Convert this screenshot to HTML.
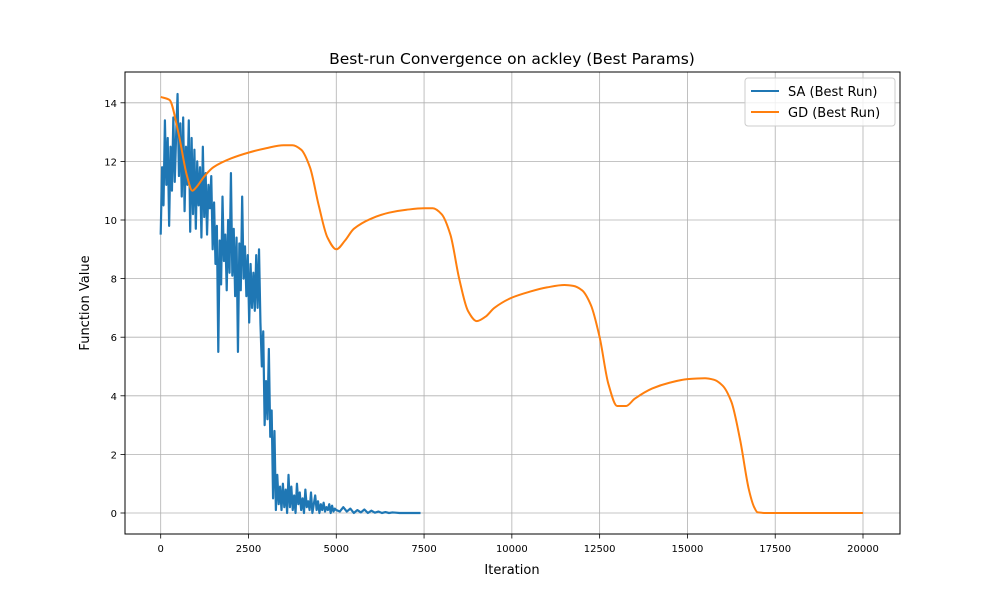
<!DOCTYPE html>
<html><head><meta charset="utf-8">
<style>
html,body{margin:0;padding:0;background:#fff;}
svg{display:block;font-family:"DejaVu Sans","Liberation Sans",sans-serif;}
</style></head>
<body>
<svg id="chart" width="1000" height="600" viewBox="0 0 1000 600">
<rect x="0" y="0" width="1000" height="600" fill="#fff"/>
<g id="grid"></g>
<g id="series"></g>
<rect x="125" y="72" width="775" height="462" fill="none" stroke="#000" stroke-width="1"/>
<g id="ticks"></g>
<text x="512" y="64" text-anchor="middle" font-size="15.5">Best-run Convergence on ackley (Best Params)</text>
<text x="512" y="574" text-anchor="middle" font-size="13">Iteration</text>
<text transform="translate(89,303) rotate(-90)" text-anchor="middle" font-size="13">Function Value</text>
<g>
<rect x="745" y="78" width="150" height="48" rx="3" fill="#fff" fill-opacity="0.8" stroke="#ccc"/>
<line x1="751" y1="91" x2="779" y2="91" stroke="#1f77b4" stroke-width="2"/>
<text x="788" y="96" font-size="13">SA (Best Run)</text>
<line x1="751" y1="112" x2="779" y2="112" stroke="#ff7f0e" stroke-width="2"/>
<text x="788" y="117" font-size="13">GD (Best Run)</text>
</g>
</svg>
<script>
const xTicks = [0, 2500, 5000, 7500, 10000, 12500, 15000, 17500, 20000];
const yTicks = [0, 2, 4, 6, 8, 10, 12, 14];
const gdIter = [0,250,500,750,900,1000,1250,1500,2000,2500,3000,3500,3750,4000,4250,4500,4750,5000,5250,5500,6000,6500,7000,7500,7750,8000,8250,8500,8750,9000,9250,9500,10000,10500,11000,11500,11750,12000,12250,12500,12750,13000,13250,13500,14000,14500,15000,15500,15750,16000,16250,16500,16750,16900,17000,17250,20000];
const gdVal = [14.2,14.1,13.0,11.5,11.0,11.1,11.5,11.8,12.1,12.3,12.45,12.55,12.55,12.4,11.8,10.5,9.4,9.0,9.3,9.7,10.05,10.25,10.35,10.4,10.4,10.2,9.5,8.0,6.9,6.55,6.7,7.0,7.35,7.55,7.7,7.78,7.75,7.6,7.1,6.0,4.4,3.65,3.65,3.9,4.25,4.45,4.57,4.6,4.55,4.35,3.8,2.5,0.8,0.2,0.02,0,0];
const saStepA = 40;
const saValA = [9.5,11.8,10.5,13.4,11.2,12.8,9.8,12.5,11.0,13.5,11.3,12.9,14.3,11.5,13.3,10.8,13.5,10.3,12.5,11.2,13.4,9.6,12.8,10.2,12.4,9.7,12.0,10.5,11.8,9.4,12.5,10.1,11.6,9.5,11.2,10.4,11.5,9.0,10.6,8.5,9.8,5.5,9.3,7.8,10.8,8.6,9.5,7.6,10.0,8.2,11.6,8.1,9.7,7.4,9.4,5.5,9.2,7.6,10.8,8.0,9.1,7.4,8.8,6.5,8.5,7.0,8.2,6.9,8.8,7.0,9.0,6.5,5.0,6.2,3.0,4.5,3.2,5.6,2.6,3.5,0.5,2.8,0.1,1.3,0.3,0.9,
0.1,1.0,0.2,0.8,0.0,1.3,0.2,0.9,0.1,0.6,0.0,1.0,0.3,0.7,0.1,0.5,0.0,0.8,0.2,0.4,0.1,0.7,0.0,0.3,0.6,0.1,0.4,0.0,0.3,0.1,0.35,0.05,0.2,0.1,0.3,0.0,0.25,0.05,0.15,0.1];
const saStartB = 5000, saStepB = 100;
const saValB = [0.05,0.2,0.05,0.15,0.0,0.1,0.02,0.12,0.0,0.08,0.01,0.05,0.0,0.03,0.0,0.02,0.01,0.0,0.0,0.0,0.0,0.0,0.0,0.0];

const NS = "http://www.w3.org/2000/svg";
const X = v => 160.7 + v * (702.3 / 20000);
const Y = v => 513 - v * 29.3;
const grid = document.getElementById('grid');
const ticks = document.getElementById('ticks');
const series = document.getElementById('series');
function mk(tag, attrs, parent){const e=document.createElementNS(NS,tag);for(const k in attrs)e.setAttribute(k,attrs[k]);parent.appendChild(e);return e;}

xTicks.forEach(t=>{
  const gl = mk('line',{x1:X(t),x2:X(t),y1:72,y2:534,stroke:'#b0b0b0','stroke-width':0.8},grid);
  
  
  const tk = mk('line',{x1:X(t),x2:X(t),y1:534,y2:538.5,stroke:'#000','stroke-width':0.8},ticks);
  
  
  const tx = mk('text',{x:X(t),y:552,'text-anchor':'middle','font-size':10},ticks);
  tx.textContent = t;
  
  
});
yTicks.forEach(t=>{
  const gl = mk('line',{x1:125,x2:900,y1:Y(t),y2:Y(t),stroke:'#b0b0b0','stroke-width':0.8},grid);
  
  
  const tk = mk('line',{x1:120.5,x2:125,y1:Y(t),y2:Y(t),stroke:'#000','stroke-width':0.8},ticks);
  
  
  const tx = mk('text',{x:117,y:Y(t)+4,'text-anchor':'end','font-size':10},ticks);
  tx.textContent = t;
  
  
});

let saPts = [];
saValA.forEach((v,i)=>saPts.push(X(i*saStepA).toFixed(2)+','+Y(v).toFixed(2)));
saValB.forEach((v,i)=>saPts.push(X(saStartB+(i+1)*saStepB).toFixed(2)+','+Y(v).toFixed(2)));
const sa = mk('polyline',{points:saPts.join(' '),fill:'none',stroke:'#1f77b4','stroke-width':2.2,'stroke-linejoin':'round'},series);



// monotone cubic path for smooth GD curve
function monotonePath(xs, ys){
  const n = xs.length, d = [], m = new Array(n);
  for(let i=0;i<n-1;i++) d.push((ys[i+1]-ys[i])/(xs[i+1]-xs[i]));
  m[0]=d[0]; m[n-1]=d[n-2];
  for(let i=1;i<n-1;i++){ m[i] = (d[i-1]*d[i]<=0) ? 0 : 3*(d[i-1]+d[i]) / ( (2*d[i]+d[i-1])/d[i-1]*0 + (d[i-1]+d[i]) ) * 0 + (2/(1/d[i-1]+1/d[i])); }
  let p = 'M'+xs[0].toFixed(2)+','+ys[0].toFixed(2);
  for(let i=0;i<n-1;i++){
    const h = (xs[i+1]-xs[i])/3;
    p += ' C'+(xs[i]+h).toFixed(2)+','+(ys[i]+m[i]*h).toFixed(2)+' '+(xs[i+1]-h).toFixed(2)+','+(ys[i+1]-m[i+1]*h).toFixed(2)+' '+xs[i+1].toFixed(2)+','+ys[i+1].toFixed(2);
  }
  return p;
}
const gx = gdIter.map(X), gy = gdVal.map(Y);
const gd = mk('path',{d:monotonePath(gx,gy),fill:'none',stroke:'#ff7f0e','stroke-width':2,'stroke-linejoin':'round'},series);


</script>
</body></html>
